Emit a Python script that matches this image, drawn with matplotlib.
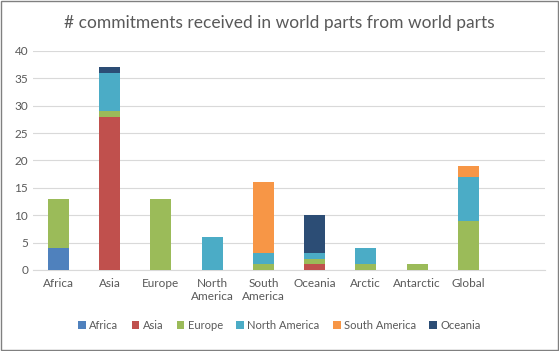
import numpy as np
from matplotlib import pyplot as plt
from matplotlib.patches import Rectangle

categories = ['Africa', 'Asia', 'Europe', 'North\nAmerica', 'South\nAmerica',
              'Oceania', 'Arctic', 'Antarctic', 'Global', '']
series = ['Africa', 'Asia', 'Europe', 'North America', 'South America', 'Oceania']
africa = [4, 0, 0, 0, 0, 0, 0, 0, 0, 0]
asia = [0, 28, 0, 0, 0, 1, 0, 0, 0, 0]
europe = [9, 1, 13, 0, 1, 1, 1, 1, 9, 0]
north_america = [0, 7, 0, 6, 2, 1, 3, 0, 8, 0]
south_america = [0, 0, 0, 0, 13, 0, 0, 0, 2, 0]
oceania = [0, 1, 0, 0, 0, 7, 0, 0, 0, 0]
colors = ['#4F81BD', '#C0504D', '#9BBB59', '#4BACC6', '#F79646', '#2C4D75']

plt.rcParams['font.family'] = ['Lato', 'DejaVu Sans']

fig = plt.figure(figsize=(5.59, 3.51), dpi=100)
ax = fig.add_axes([0.059, 0.231, 0.916, 0.624])

x = np.arange(len(categories))
bottom = np.zeros(len(categories))
for name, vals, c in zip(series, [africa, asia, europe, north_america, south_america, oceania], colors):
    vals = np.array(vals, dtype=float)
    ax.bar(x, vals, 0.41, bottom=bottom, color=c, label=name, zorder=3)
    bottom += vals

ax.set_xlim(-0.5, len(categories) - 0.5)
ax.set_ylim(0, 40)
ax.set_yticks(range(0, 41, 5))
ax.set_xticks(x)
ax.set_xticklabels(categories, fontsize=8.5)
ax.tick_params(axis='both', length=0, labelsize=8.5, colors='#595959')
ax.tick_params(axis='x', pad=6)
ax.grid(axis='y', color='#D9D9D9', linewidth=0.8, zorder=0)
for s in ['top', 'right', 'left']:
    ax.spines[s].set_visible(False)
ax.spines['bottom'].set_color('#D9D9D9')

fig.text(0.5, 0.935, '# commitments received in world parts from world parts',
         ha='center', va='center', fontsize=12.5, color='#595959')

fig.legend(loc='center', bbox_to_anchor=(0.5, 0.072), ncol=6, frameon=False,
           fontsize=8, handlelength=0.7, handleheight=0.7, handletextpad=0.3,
           columnspacing=1.2, labelcolor='#595959')

fig.patches.append(Rectangle((0.001, 0.002), 0.997, 0.995, transform=fig.transFigure,
                             fill=False, edgecolor='#808080', linewidth=1))

fig.savefig('out.png', dpi=100)
